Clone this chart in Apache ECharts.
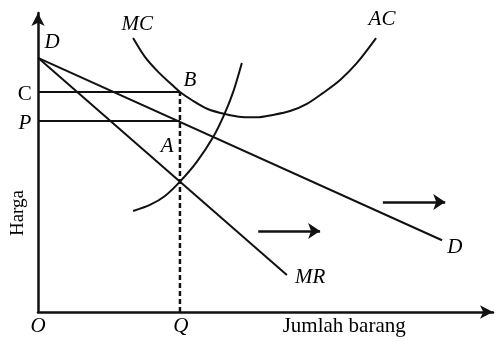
<!DOCTYPE html>
<html>
<head>
<meta charset="utf-8">
<script src="https://cdn.jsdelivr.net/npm/echarts@6/dist/echarts.min.js"></script>
<style>
  html, body { margin: 0; padding: 0; background: #fff; }
  #chart { width: 495px; height: 341px; }
</style>
</head>
<body>
<div id="chart"></div>
<script>
// kurva dalam satuan (jumlah, harga), 0..100
var demandD = [[0, 85], [88.8, 24]];
var revenueMR = [[0, 85], [54.7, 12.4]];
var kurvaU = [
  [20.9, 91.6], [23.5, 85.3], [26.4, 80.3], [29.5, 75.9], [31.2, 73.6],
  [33.8, 70.9], [37.3, 67.9], [41.1, 66.2], [44.8, 65.2], [48.1, 65.1],
  [51.6, 65.9], [55.4, 67.2], [59.1, 69.6], [62.6, 73.2], [66.4, 77.6],
  [70.1, 83.3], [74.3, 91.6]
];
var kurvaNaik = [
  [20.9, 33.8], [24.6, 35.8], [27.9, 38.8], [31.2, 43.6], [34.9, 50.2],
  [38.5, 58.5], [40.9, 65.9], [42.9, 73.6], [44.8, 83.3]
];
var qX = 31.2;
var hargaC = 73.6;
var hargaP = 63.9;
var panah = [
  [[48.4, 27.1], [62.0, 27.1]],
  [[75.8, 36.8], [89.5, 36.8]]
];
// label: [teks, x, y, miring, putar, ukuran]
var labels = [
  ['D', 3.1, 90.3, true, 0, 21],
  ['MC', 21.8, 96.3, true, 0, 21],
  ['AC', 75.6, 97.7, true, 0, 21],
  ['B', 33.4, 77.3, true, 0, 21],
  ['C', -2.9, 72.9, false, 0, 21],
  ['P', -2.9, 62.9, true, 0, 21],
  ['A', 28.4, 55.2, true, 0, 21],
  ['D', 91.6, 21.7, true, 0, 21],
  ['MR', 59.8, 11.7, true, 0, 21],
  ['O', 0, -4.7, true, 0, 21],
  ['Q', 31.4, -4.7, true, 0, 21],
  ['Jumlah barang', 67.3, -5.0, false, 0, 21],
  ['Harga', -4.4, 33.1, false, 90, 19]
];

var ink = '#111';
var chart = echarts.init(document.getElementById('chart'));

function garis(data, extra) {
  return Object.assign({
    type: 'line',
    data: data,
    symbol: 'none',
    silent: true,
    animation: false,
    lineStyle: { color: ink, width: 2 }
  }, extra || {});
}

var series = [
  garis(demandD),
  garis(revenueMR),
  garis(kurvaU, { smooth: 0.3 }),
  garis(kurvaNaik, { smooth: 0.3 }),
  garis([[0, hargaC], [qX, hargaC]]),
  garis([[0, hargaP], [qX, hargaP]]),
  garis([[qX, 0], [qX, hargaC]], { lineStyle: { color: ink, width: 2.5, type: [5, 3] } }),
  {
    type: 'lines',
    coordinateSystem: 'cartesian2d',
    silent: true,
    animation: false,
    symbol: ['none', 'arrow'],
    symbolSize: 12,
    lineStyle: { color: ink, width: 2.5, opacity: 1 },
    data: panah.map(function (p) { return { coords: p }; })
  },
  {
    type: 'scatter',
    clip: false,
    silent: true,
    animation: false,
    symbolSize: 1,
    itemStyle: { color: 'rgba(0,0,0,0)' },
    data: labels.map(function (l) {
      return {
        value: [l[1], l[2]],
        label: {
          show: true,
          position: 'inside',
          formatter: l[0],
          color: '#000',
          textBorderWidth: 0,
          opacity: 1,
          fontFamily: 'Liberation Serif',
          fontStyle: l[3] ? 'italic' : 'normal',
          fontSize: l[5],
          rotate: l[4]
        }
      };
    })
  }
];

chart.setOption({
  backgroundColor: '#fff',
  animation: false,
  grid: { left: 38, right: 2, top: 13, bottom: 29 },
  xAxis: {
    type: 'value', min: 0, max: 100,
    axisLine: { show: true, lineStyle: { color: ink, width: 2.5 }, symbol: ['none', 'arrow'], symbolSize: [10, 13] },
    axisTick: { show: false }, axisLabel: { show: false }, splitLine: { show: false }
  },
  yAxis: {
    type: 'value', min: 0, max: 100,
    axisLine: { show: true, lineStyle: { color: ink, width: 2.5 }, symbol: ['none', 'arrow'], symbolSize: [10, 13] },
    axisTick: { show: false }, axisLabel: { show: false }, splitLine: { show: false }
  },
  series: series
});
</script>
</body>
</html>
